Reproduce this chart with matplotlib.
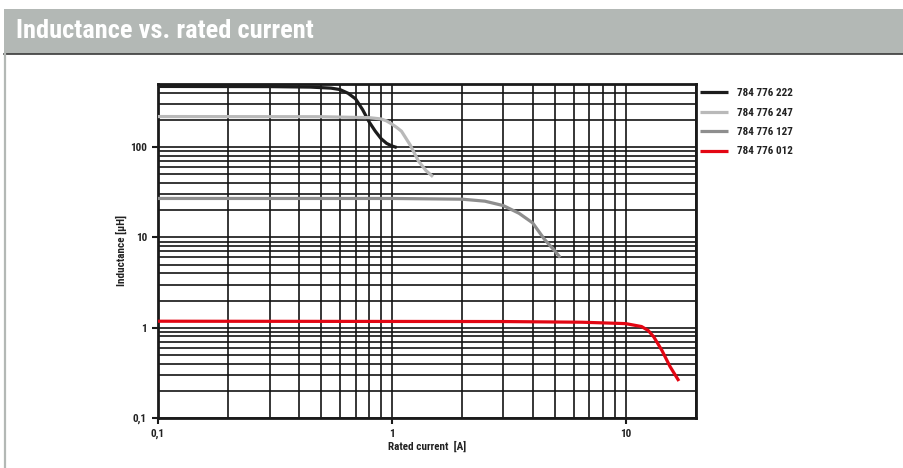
import numpy as np
import matplotlib.pyplot as plt
from matplotlib.patches import Rectangle
from matplotlib.lines import Line2D
from matplotlib.ticker import FixedLocator, NullFormatter
from matplotlib import font_manager

# pick a narrow face if one exists
avail = {f.name for f in font_manager.fontManager.ttflist}
narrow = [n for n in ['Roboto Condensed', 'DejaVu Sans Condensed', 'Liberation Sans Narrow',
                      'Open Sans Condensed', 'Noto Sans Condensed'] if n in avail]
plt.rcParams['font.family'] = narrow + ['Roboto', 'DejaVu Sans']
plt.rcParams['font.stretch'] = 'condensed'

names = ['784 776 222', '784 776 247', '784 776 127', '784 776 012']
colors = ['#1c1c1c', '#b9b9b9', '#8e8e8e', '#e30613']

x_222 = [0.1, 0.3, 0.45, 0.55, 0.6, 0.65, 0.7, 0.75, 0.8, 0.85, 0.9, 0.95, 1.0, 1.05]
y_222 = [470, 468, 462, 450, 434, 395, 342, 260, 190, 150, 124, 110, 103, 99]

x_247 = [0.1, 0.5, 0.8, 0.9, 0.95, 1.0, 1.05, 1.1, 1.2, 1.3, 1.4, 1.5]
y_247 = [218, 217, 212, 205, 195, 180, 165, 150, 105, 70, 55, 47]

x_127 = [0.1, 1, 2, 2.5, 3, 3.5, 4, 4.5, 5, 5.25]
y_127 = [27, 27, 26.5, 25.2, 22.5, 18.5, 14.5, 9.5, 7, 6]

x_012 = [0.1, 3, 6.5, 10, 11.7, 12.5, 13.2, 14.3, 15.5, 16.9]
y_012 = [1.18, 1.17, 1.15, 1.11, 1.03, 0.93, 0.79, 0.56, 0.37, 0.257]

xs = [x_222, x_247, x_127, x_012]
ys = [y_222, y_247, y_127, y_012]

x_ticks = [0.1, 1, 10]
x_ticklabels = ['0,1', '1', '10']
y_ticks = [0.1, 1, 10, 100]
y_ticklabels = ['0,1', '1', '10', '100']

fig = plt.figure(figsize=(9.04, 4.68), dpi=100)

# header bar
fig.patches.append(Rectangle((4/904, 1-54/468), 900/904, 45/468, transform=fig.transFigure,
                             facecolor='#b3b8b5', edgecolor='none', zorder=0))
fig.lines.append(Line2D([4/904, 1], [1-54/468, 1-54/468], transform=fig.transFigure,
                        color='#3a3a3a', lw=1.2))
fig.lines.append(Line2D([5/904, 5/904], [0, 1-54/468], transform=fig.transFigure,
                        color='#b3b8b5', lw=1.6))
fig.text(16/904, 1-31/468, 'Inductance vs. rated current', color='white', fontsize=19,
         fontweight='bold', va='center', ha='left')

ax = fig.add_axes([158/904, 1-418/468, 538/904, 334/468])
ax.set_xscale('log')
ax.set_yscale('log')
ax.set_xlim(0.1, 20)
ax.set_ylim(0.1, 500)

minor_x = [m * d for d in (0.1, 1, 10) for m in range(1, 10)] + [20]
minor_y = [m * d for d in (0.1, 1, 10, 100) for m in range(1, 10)] + [500]
for v in minor_x:
    ax.axvline(v, color='#141414', lw=1.2, zorder=1)
for v in minor_y:
    ax.axhline(v, color='#141414', lw=1.2, zorder=1)

for x, y, c, n in zip(xs, ys, colors, names):
    ax.plot(x, y, color=c, lw=2.3, label=n, zorder=3, solid_capstyle='butt')

ax.xaxis.set_major_locator(FixedLocator(x_ticks))
ax.xaxis.set_minor_locator(FixedLocator([]))
ax.set_xticklabels(x_ticklabels)
ax.yaxis.set_major_locator(FixedLocator(y_ticks))
ax.yaxis.set_minor_locator(FixedLocator([]))
ax.yaxis.set_minor_formatter(NullFormatter())
ax.set_yticklabels(y_ticklabels)
ax.tick_params(axis='both', labelsize=8, length=4, width=1.5, color='#1a1a1a', pad=4)
for lab in ax.get_xticklabels() + ax.get_yticklabels():
    lab.set_fontweight('bold')
    lab.set_color('#222222')

for s in ax.spines.values():
    s.set_linewidth(2)
    s.set_color('#1a1a1a')

ax.set_xlabel('Rated current  [A]', fontsize=8, fontweight='bold', color='#222222', labelpad=1)
ax.set_ylabel('Inductance [µH]', fontsize=8, fontweight='bold', color='#222222', labelpad=2)

leg = ax.legend(loc='upper left', bbox_to_anchor=(0.999, 1.001), frameon=False, fontsize=8,
                handlelength=2.5, handletextpad=0.8, labelspacing=0.85, borderaxespad=0.0)
for t in leg.get_texts():
    t.set_fontweight('bold')
    t.set_color('#222222')

fig.savefig('out.png', dpi=100)
